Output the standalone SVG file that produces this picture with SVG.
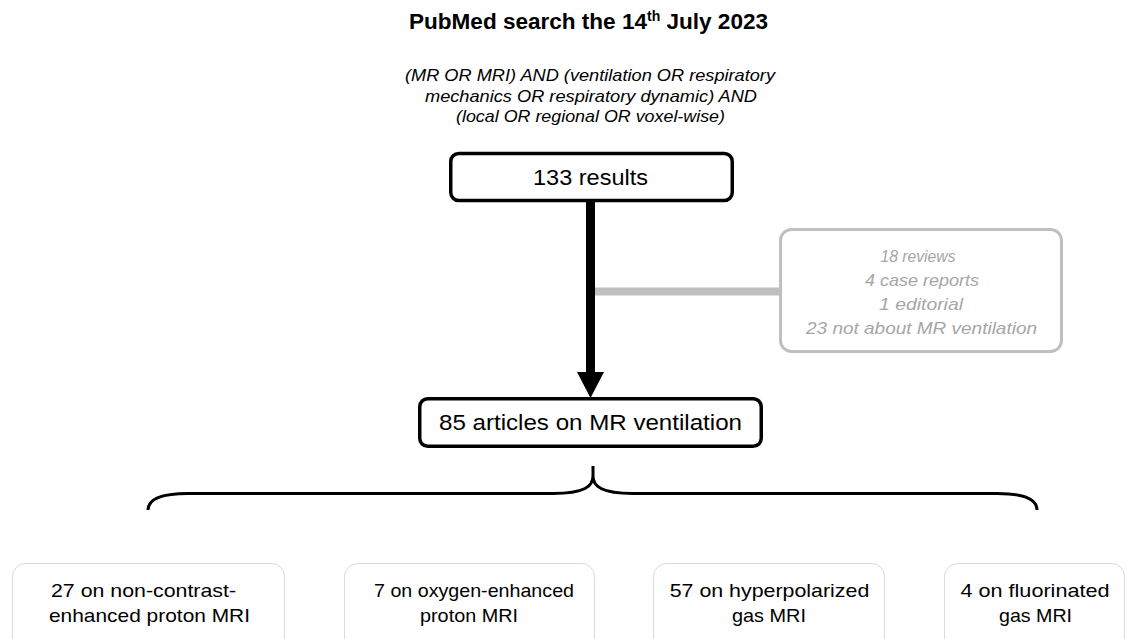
<svg xmlns="http://www.w3.org/2000/svg" width="1127" height="639" viewBox="0 0 1127 639">
<style>
text{font-family:"Liberation Sans",Arial,sans-serif;fill:#000;text-anchor:middle}
.title{font-weight:bold;font-size:22.5px}
.query{font-style:italic;font-size:17px}
.main{fill:#fff;stroke:#000;stroke-width:3.5}
.mt{font-size:22px}
.excl{fill:#fff;stroke:#bfbfbf;stroke-width:3}
.et{font-style:italic;font-size:17px;fill:#a6a6a6}
.cat{fill:#fff;stroke:#d9d9d9;stroke-width:1}
.ct{font-size:19px}
</style>
<rect width="1127" height="639" fill="#fff"/>
<g id="title">
<text class="title" x="588.5" y="28.5" textLength="359" lengthAdjust="spacingAndGlyphs">PubMed search the 14<tspan font-size="14" dy="-8">th</tspan><tspan dy="8"> July 2023</tspan></text>
</g>
<g id="query">
<text class="query" x="590" y="81" textLength="370" lengthAdjust="spacingAndGlyphs">(MR OR MRI) AND (ventilation OR respiratory</text>
<text class="query" x="591" y="101.5" textLength="332" lengthAdjust="spacingAndGlyphs">mechanics OR respiratory dynamic) AND</text>
<text class="query" x="590.5" y="122" textLength="269" lengthAdjust="spacingAndGlyphs">(local OR regional OR voxel-wise)</text>
</g>
<g id="connectors">
<rect x="595" y="287.5" width="185" height="8" fill="#bfbfbf"/>
<rect x="586" y="202" width="9" height="171" fill="#000"/>
<polygon points="577,372 604,372 590.5,398" fill="#000"/>
<path d="M593,466 V476 C593,486 585,493.5 553,493.5 H188 C160,493.5 148,500 148,510 M593,476 C593,486 601,493.5 633,493.5 H997 C1025,493.5 1037,500 1037,510" fill="none" stroke="#000" stroke-width="3"/>
</g>
<g id="n-results">
<rect class="main" x="450.75" y="153.5" width="281.5" height="47" rx="8"/>
<text class="mt" x="590.5" y="185" textLength="115" lengthAdjust="spacingAndGlyphs">133 results</text>
</g>
<g id="n-excluded">
<rect class="excl" x="780.5" y="229.5" width="281" height="122" rx="11"/>
<text class="et" x="918" y="262" textLength="75" lengthAdjust="spacingAndGlyphs">18 reviews</text>
<text class="et" x="922" y="286" textLength="114" lengthAdjust="spacingAndGlyphs">4 case reports</text>
<text class="et" x="921" y="310" textLength="84" lengthAdjust="spacingAndGlyphs">1 editorial</text>
<text class="et" x="921.5" y="334" textLength="231" lengthAdjust="spacingAndGlyphs">23 not about MR ventilation</text>
</g>
<g id="n-articles">
<rect class="main" x="419.75" y="398.75" width="341.5" height="47.5" rx="8"/>
<text class="mt" x="590.5" y="430" textLength="303" lengthAdjust="spacingAndGlyphs">85 articles on MR ventilation</text>
</g>
<g id="n-noncontrast">
<rect class="cat" x="12.5" y="563.5" width="272" height="90" rx="13"/>
<text class="ct" x="143.5" y="597" textLength="185" lengthAdjust="spacingAndGlyphs">27 on non-contrast-</text>
<text class="ct" x="149.5" y="622" textLength="201" lengthAdjust="spacingAndGlyphs">enhanced proton MRI</text>
</g>
<g id="n-oxygen">
<rect class="cat" x="344.5" y="563.5" width="250" height="90" rx="13"/>
<text class="ct" x="474" y="597" textLength="200" lengthAdjust="spacingAndGlyphs">7 on oxygen-enhanced</text>
<text class="ct" x="469" y="622" textLength="98" lengthAdjust="spacingAndGlyphs">proton MRI</text>
</g>
<g id="n-hyper">
<rect class="cat" x="653.5" y="563.5" width="231" height="90" rx="13"/>
<text class="ct" x="769.5" y="597" textLength="199.6" lengthAdjust="spacingAndGlyphs">57 on hyperpolarized</text>
<text class="ct" x="769" y="622" textLength="74" lengthAdjust="spacingAndGlyphs">gas MRI</text>
</g>
<g id="n-fluor">
<rect class="cat" x="944.5" y="563.5" width="180" height="90" rx="13"/>
<text class="ct" x="1035" y="597" textLength="149" lengthAdjust="spacingAndGlyphs">4 on fluorinated</text>
<text class="ct" x="1035.5" y="622" textLength="73" lengthAdjust="spacingAndGlyphs">gas MRI</text>
</g>
</svg>
